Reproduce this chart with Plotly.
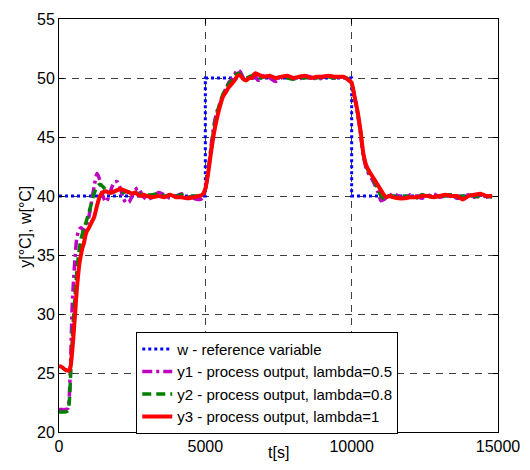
import plotly.graph_objects as go

# time grid [s], shared by the three process outputs
t = [0, 100, 200, 300,
     350, 400, 450, 500, 550, 600, 650, 700, 750, 800, 850, 900, 950, 1000,
     1100, 1200, 1300, 1400, 1500, 1600, 1700, 1800, 1900, 2000,
     2100, 2200, 2300, 2400, 2500, 2600, 2700, 2800, 2900, 3000,
     3200, 3400, 3600, 3800, 4000, 4200, 4400, 4600, 4800,
     4900, 5000, 5100, 5200, 5300, 5400, 5500, 5600, 5700, 5800, 5900,
     6000, 6100, 6200, 6300, 6400, 6500, 6600, 6700, 6800, 6900, 7000,
     7200, 7400, 7600, 7800, 8000, 8200, 8400, 8600, 8800, 9000, 9200, 9400, 9600,
     9700, 9800, 9900, 10000, 10100, 10200, 10300, 10400, 10500, 10600,
     10700, 10800, 10900, 11000, 11100, 11200, 11300, 11400,
     11600, 11800, 12000, 12200, 12400, 12600, 12800, 13000, 13200,
     13400, 13600, 13800, 14000, 14200, 14400, 14600, 14800]

# reference variable w (step changes)
t_w = [0, 5000, 10000, 14800]
w = [40, 50, 40, 40]

# y1 - lambda = 0.5
y1 = [21.9, 21.9, 21.9, 22.0,
      23.0, 26.3, 30.6, 33.0, 34.8, 36.3, 36.9, 37.2, 37.3, 37.2, 37.0, 37.2, 37.6, 38.0,
      39.3, 40.8, 41.9, 41.3, 40.0, 39.5, 39.9, 40.7, 41.2, 41.2,
      40.6, 39.8, 39.4, 39.5, 40.0, 40.5, 40.7, 40.3, 39.9, 39.7,
      39.9, 40.3, 40.1, 39.8, 40.0, 40.2, 39.9, 39.8, 39.7,
      39.8, 40.5, 42.2, 44.3, 46.1, 47.2, 47.8, 48.5, 49.1, 49.6, 49.9,
      50.3, 50.7, 50.5, 50.0, 49.8, 50.1, 50.3, 50.2, 49.8, 49.9, 50.2,
      50.0, 49.7, 50.0, 50.2, 50.0, 49.9, 50.2, 50.1, 49.9, 50.0, 50.2, 50.0, 50.1,
      50.1, 50.0, 49.9, 49.5, 48.4, 47.0, 45.3, 43.4, 42.3, 41.8,
      41.4, 40.9, 40.3, 39.6, 39.7, 39.9, 40.0, 40.2,
      40.0, 39.8, 40.1, 40.0, 39.8, 40.0, 40.2, 39.9, 40.0,
      40.1, 39.8, 39.9, 40.1, 39.9, 40.1, 39.9, 40.0]

# y2 - lambda = 0.8
y2 = [21.7, 21.7, 21.7, 21.8,
      22.5, 25.0, 27.6, 29.8, 31.6, 33.3, 34.6, 35.6, 36.3, 36.8, 37.2, 37.6, 38.0, 38.4,
      39.3, 40.2, 40.8, 41.0, 40.8, 40.5, 40.3, 40.3, 40.4, 40.5,
      40.4, 40.3, 40.4, 40.3, 40.2, 40.3, 40.2, 40.1, 40.2, 40.1,
      40.1, 40.2, 40.0, 40.1, 40.0, 40.1, 39.9, 40.0, 40.0,
      40.1, 40.6, 42.1, 44.0, 45.8, 47.0, 47.9, 48.6, 49.1, 49.5, 49.8,
      50.1, 50.4, 50.3, 50.0, 50.0, 50.1, 50.2, 50.3, 50.1, 50.0, 50.1,
      50.1, 50.0, 50.1, 50.0, 49.9, 50.1, 50.0, 50.1, 50.0, 50.1, 50.1, 50.0, 50.1,
      50.1, 50.0, 49.9, 49.5, 48.4, 47.1, 45.5, 43.5, 42.5, 42.0,
      41.6, 41.1, 40.6, 40.0, 39.8, 39.9, 40.0, 40.0,
      39.9, 40.0, 39.9, 39.8, 40.1, 40.0, 39.9, 40.0, 40.0,
      40.1, 39.9, 40.0, 40.1, 40.0, 39.9, 40.0, 39.9]

# y3 - lambda = 1
y3 = [25.6, 25.5, 25.3, 25.2,
      25.2, 25.6, 26.8, 28.3, 30.0, 31.8, 33.2, 34.3, 35.0, 35.6, 36.0, 36.6, 37.0, 37.2,
      37.7, 38.2, 39.2, 40.0, 40.3, 40.4, 40.3, 40.3, 40.4, 40.5,
      40.6, 40.5, 40.4, 40.3, 40.2, 40.3, 40.1, 40.0, 40.1, 40.0,
      39.9, 40.0, 39.9, 40.1, 39.9, 39.9, 39.8, 39.9, 40.0,
      40.1, 40.6, 42.0, 43.8, 45.4, 46.6, 47.6, 48.4, 48.8, 49.2, 49.5,
      49.8, 50.2, 50.2, 49.9, 49.8, 50.0, 50.0, 50.4, 50.3, 50.2, 50.1,
      50.2, 50.0, 50.1, 50.2, 50.0, 50.1, 50.2, 50.0, 50.1, 50.1, 50.2, 50.1, 50.1,
      50.1, 50.0, 49.8, 49.6, 48.4, 47.2, 45.6, 43.6, 42.6, 42.1,
      41.7, 41.3, 40.9, 40.5, 40.1, 39.9, 40.0, 39.9,
      39.8, 39.8, 39.9, 39.9, 40.0, 40.0, 39.9, 40.0, 40.1,
      40.0, 40.0, 39.7, 40.0, 40.1, 40.2, 40.0, 40.0]

FONT = 'Liberation Sans, Arial, sans-serif'

fig = go.Figure()
fig.add_trace(go.Scatter(x=t_w, y=w, mode='lines', line_shape='hv',
                         name='w - reference variable',
                         line=dict(color='#0000ff', width=3, dash='3px,3px')))
fig.add_trace(go.Scatter(x=t, y=y1, mode='lines', line_shape='spline',
                         name='y1 - process output, lambda=0.5',
                         line=dict(color='#bf00bf', width=3.5, dash='10px,4px,3px,4px', smoothing=0.6)))
fig.add_trace(go.Scatter(x=t, y=y2, mode='lines', line_shape='spline',
                         name='y2 - process output, lambda=0.8',
                         line=dict(color='#008000', width=3.5, dash='9px,5px', smoothing=0.6)))
fig.add_trace(go.Scatter(x=t, y=y3, mode='lines', line_shape='spline',
                         name='y3 - process output, lambda=1',
                         line=dict(color='#ff0000', width=4, smoothing=0.6)))

axis_style = dict(showline=True, linecolor='black', linewidth=1, mirror='ticks',
                  ticks='inside', ticklen=5, tickcolor='black', automargin=False,
                  showgrid=True, gridcolor='rgba(0,0,0,0.75)', gridwidth=1, griddash='7px,6px',
                  zeroline=False, exponentformat='none', separatethousands=False,
                  tickfont=dict(family=FONT, size=16, color='black'))

fig.update_xaxes(range=[0, 15000], tick0=0, dtick=5000, tickformat='d', **axis_style)
fig.update_yaxes(range=[20, 55], tick0=20, dtick=5, **axis_style)

# axis titles placed as annotations for exact positioning
fig.add_annotation(text='t[s]', xref='paper', yref='paper', x=0.5, y=-0.05,
                   xanchor='center', yanchor='middle', showarrow=False,
                   font=dict(family=FONT, size=16, color='black'))
fig.add_annotation(text='y[°C], w[°C]', xref='paper', yref='paper', x=-0.075, y=0.497,
                   xanchor='center', yanchor='middle', textangle=-90, showarrow=False,
                   font=dict(family=FONT, size=16, color='black'))

# page body adds an 8px margin, so the figure is sized to fit the window
fig.update_layout(
    width=514, height=454,
    margin=dict(l=51, r=24, t=11, b=30),
    paper_bgcolor='white', plot_bgcolor='white',
    font=dict(family=FONT, size=16, color='black'),
    legend=dict(x=0.176, y=0.243, xanchor='left', yanchor='top',
                bgcolor='white', bordercolor='black', borderwidth=1,
                font=dict(family=FONT, size=15, color='black'),
                tracegroupgap=0, itemwidth=30),
)

fig.write_html("out.html")
